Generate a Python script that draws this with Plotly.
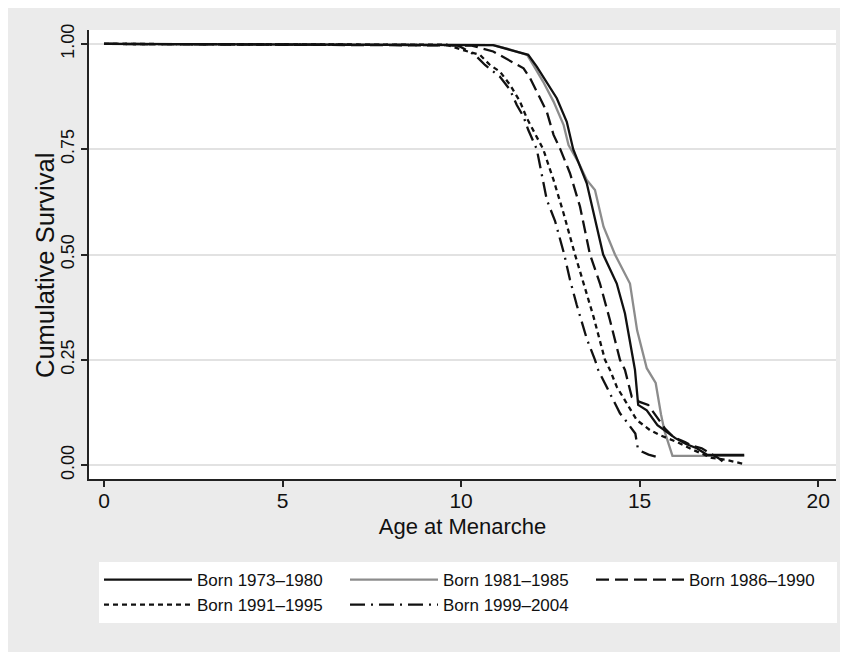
import plotly.graph_objects as go

# ---- data ----
series_names = ["Born 1973\u20131980", "Born 1981\u20131985", "Born 1986\u20131990",
                "Born 1991\u20131995", "Born 1999\u20132004"]

age_1973_1980 = [0, 10.9, 11.37, 11.88, 12.12, 12.4, 12.68, 12.96, 13.14, 13.52, 13.80, 13.98,
                 14.36, 14.59, 14.82, 14.87, 14.96, 15.2, 15.5, 16.0, 16.3, 16.6, 16.9, 17.93]
surv_1973_1980 = [1, 0.997, 0.986, 0.974, 0.946, 0.91, 0.871, 0.815, 0.75, 0.669, 0.566, 0.5,
                  0.431, 0.36, 0.25, 0.226, 0.143, 0.13, 0.095, 0.064, 0.05, 0.04, 0.024, 0.024]

age_1981_1985 = [0, 10.9, 11.4, 11.85, 12.02, 12.3, 12.59, 12.87, 13.01, 13.28, 13.52, 13.75,
                 13.99, 14.31, 14.73, 14.93, 15.2, 15.45, 15.6, 15.7, 15.92, 17.93]
surv_1981_1985 = [1, 0.997, 0.986, 0.974, 0.95, 0.91, 0.863, 0.808, 0.76, 0.72, 0.677, 0.653,
                  0.566, 0.5, 0.431, 0.32, 0.23, 0.195, 0.12, 0.08, 0.022, 0.022]

age_1986_1990 = [0, 10.3, 10.9, 11.33, 11.75, 11.93, 12.12, 12.4, 12.59, 12.77, 13.05, 13.33,
                 13.61, 13.89, 14.17, 14.45, 14.59, 14.78, 15.0, 15.24, 15.71, 15.94, 16.27,
                 16.46, 16.74, 16.97, 17.2, 17.45]
surv_1986_1990 = [1, 0.996, 0.982, 0.962, 0.942, 0.919, 0.887, 0.839, 0.784, 0.752, 0.693, 0.614,
                  0.5, 0.431, 0.344, 0.25, 0.226, 0.162, 0.15, 0.143, 0.087, 0.067, 0.055,
                  0.046, 0.04, 0.028, 0.017, 0.0]

age_1991_1995 = [0, 9.6, 10.02, 10.53, 10.81, 11.09, 11.37, 11.65, 11.84, 12.05, 12.3, 12.59,
                 12.87, 13.19, 13.43, 13.71, 14.03, 14.17, 14.36, 14.64, 14.92, 15.29, 15.57,
                 16.04, 16.5, 17.02, 17.39, 17.9]
surv_1991_1995 = [1, 0.998, 0.986, 0.974, 0.95, 0.934, 0.903, 0.863, 0.824, 0.79, 0.75, 0.677,
                  0.598, 0.5, 0.431, 0.352, 0.25, 0.226, 0.186, 0.147, 0.107, 0.083, 0.071,
                  0.055, 0.036, 0.017, 0.013, 0.003]

age_1999_2004 = [0, 9.9, 10.39, 10.67, 11.09, 11.37, 11.56, 11.75, 11.88, 12.12, 12.4, 12.63,
                 12.89, 13.05, 13.24, 13.52, 13.75, 13.84, 14.17, 14.45, 14.6, 14.82, 14.88,
                 14.95, 15.06, 15.25, 15.45]
surv_1999_2004 = [1, 0.997, 0.974, 0.95, 0.922, 0.891, 0.855, 0.827, 0.796, 0.75, 0.63, 0.58,
                  0.5, 0.44, 0.38, 0.3, 0.25, 0.226, 0.17, 0.123, 0.107, 0.083, 0.075,
                  0.04, 0.032, 0.025, 0.02]

y_ticks = [0, 0.25, 0.5, 0.75, 1.0]
x_ticks = [0, 5, 10, 15, 20]

# ---- styles ----
styles = [
    dict(color="#111111", width=2.3, dash="solid"),
    dict(color="#8c8c8c", width=2.3, dash="solid"),
    dict(color="#111111", width=2.3, dash="13px,6px"),
    dict(color="#111111", width=2.3, dash="5px,4px"),
    dict(color="#111111", width=2.3, dash="15px,6px,2px,6px"),
]
ages = [age_1973_1980, age_1981_1985, age_1986_1990, age_1991_1995, age_1999_2004]
survs = [surv_1973_1980, surv_1981_1985, surv_1986_1990, surv_1991_1995, surv_1999_2004]

fig = go.Figure()
# draw gray first so black lines sit on top, but keep legend order
order = [1, 0, 2, 3, 4]
for i in order:
    fig.add_trace(go.Scatter(
        x=ages[i], y=survs[i], mode="lines", name=series_names[i],
        line=styles[i], legendrank=i + 1, hoverinfo="skip",
    ))

FONT = "Liberation Sans, Arial, Helvetica, sans-serif"
# the page body adds an 8px offset to the figure; layout compensates
W, H = 848, 652
ML, MR, MT, MB = 81, 20, 22, 181
pw, ph = W - ML - MR, H - MT - MB

fig.update_layout(
    width=W, height=H,
    margin=dict(l=ML, r=MR, t=MT, b=MB, pad=0),
    paper_bgcolor="#ebebeb",
    plot_bgcolor="#ffffff",
    font=dict(family=FONT, color="#111111"),
    showlegend=True,
    legend=dict(
        orientation="h", x=(91 - ML) / pw, y=-(554 - (MT + ph)) / ph,
        xanchor="left", yanchor="top",
        bgcolor="#ffffff", borderwidth=0,
        font=dict(size=17, family=FONT, color="#111111"),
        itemwidth=88, entrywidth=143, entrywidthmode="pixels",
        traceorder="normal",
    ),
    xaxis=dict(
        range=[-0.42, 20.5], tickvals=x_ticks, ticktext=[str(v) for v in x_ticks],
        showgrid=False, zeroline=False, automargin=False,
        showline=True, linecolor="#222222", linewidth=1.5,
        ticks="outside", ticklen=6, tickwidth=1.5, tickcolor="#222222",
        tickfont=dict(size=21), ticklabelstandoff=-4,
        title=dict(text="Age at Menarche", font=dict(size=22), standoff=8),
    ),
    yaxis=dict(
        range=[-0.033, 1.033], tickvals=y_ticks, ticktext=[f"{v:.2f}" for v in y_ticks],
        tickangle=-90, automargin=False,
        showgrid=True, gridcolor="#e2e2e2", gridwidth=1.5, zeroline=False,
        showline=True, linecolor="#222222", linewidth=1.5,
        ticks="outside", ticklen=6, tickwidth=1.5, tickcolor="#222222",
        tickfont=dict(size=18),
    ),
    annotations=[
        dict(text="Cumulative Survival", xref="paper", yref="paper",
             x=(37 - ML) / pw, y=(MT + ph - 258) / ph, xanchor="center", yanchor="middle",
             textangle=-90, showarrow=False, font=dict(size=25.5, family=FONT, color="#111111")),
    ],
)

fig.write_html("out.html", config={"displayModeBar": False})
